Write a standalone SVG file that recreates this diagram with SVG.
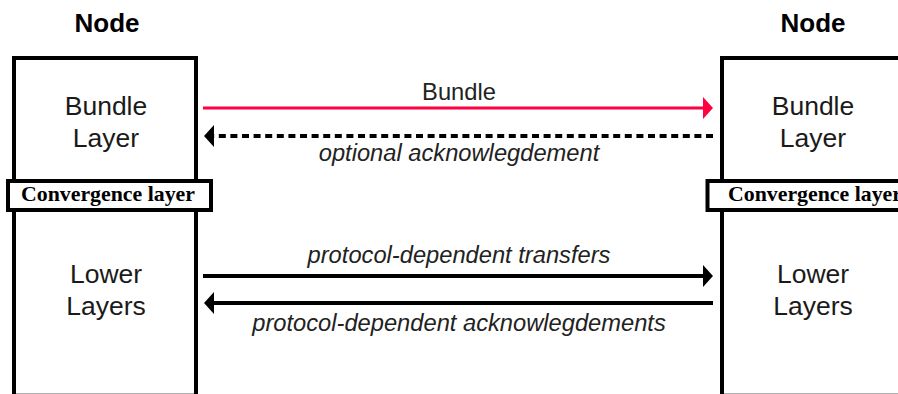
<svg xmlns="http://www.w3.org/2000/svg" width="898" height="394" viewBox="0 0 898 394">
<style>
.title{font-family:"Liberation Sans",Arial,sans-serif;font-weight:bold;font-size:26px;fill:#000;text-anchor:middle}
.lay{font-family:"Liberation Sans",Arial,sans-serif;font-size:26.5px;fill:#1a1a1a;text-anchor:middle}
.lbl{font-family:"Liberation Sans",Arial,sans-serif;font-size:23.7px;fill:#222;text-anchor:middle}
.it{font-style:italic}
.conv{font-family:"Liberation Serif","Times New Roman",serif;font-weight:bold;font-size:21px;fill:#000}
.box{fill:#fff;stroke:#000;stroke-width:4}
.cbox{fill:#fff;stroke:#000;stroke-width:4}
.red{stroke:#FF0040;stroke-width:3;fill:none}
.blk{stroke:#000;stroke-width:4;fill:none}
.dash{stroke:#000;stroke-width:4;fill:none;stroke-dasharray:7 4.6}
</style>
<defs>
<marker id="ahR" markerUnits="userSpaceOnUse" viewBox="0 0 10 22" refX="2" refY="11" markerWidth="10" markerHeight="22" orient="auto"><path d="M0,0 L10,11 L0,22 z" fill="#FF0040"/></marker>
<marker id="ahK" markerUnits="userSpaceOnUse" viewBox="0 0 10 22" refX="2" refY="11" markerWidth="10" markerHeight="22" orient="auto"><path d="M0,0 L10,11 L0,22 z" fill="#000"/></marker>
</defs>
<rect width="898" height="394" fill="#fff"/>
<g id="node-left">
<text class="title" x="107" y="32">Node</text>
<path class="box" d="M14,398 L14,58 L196,58 L196,398"/>
<line x1="16" y1="393.5" x2="194" y2="393.5" stroke="#b0b0b0" stroke-width="1"/>
<text class="lay" x="106" y="115">Bundle</text>
<text class="lay" x="106" y="147">Layer</text>
<text class="lay" x="106" y="283">Lower</text>
<text class="lay" x="106" y="315">Layers</text>
</g>
<g id="conv-left">
<rect class="cbox" x="8" y="181" width="203" height="29"/>
<text class="conv" x="21" y="201" textLength="174" lengthAdjust="spacingAndGlyphs">Convergence layer</text>
</g>
<g id="node-right">
<text class="title" x="813" y="32">Node</text>
<path class="box" d="M722,398 L722,58 L904,58 L904,398"/>
<line x1="724" y1="393.5" x2="898" y2="393.5" stroke="#b0b0b0" stroke-width="1"/>
<text class="lay" x="813" y="115">Bundle</text>
<text class="lay" x="813" y="147">Layer</text>
<text class="lay" x="813" y="283">Lower</text>
<text class="lay" x="813" y="315">Layers</text>
</g>
<g id="conv-right">
<rect class="cbox" x="707.5" y="181" width="203" height="29"/>
<text class="conv" x="728" y="201" textLength="174" lengthAdjust="spacingAndGlyphs">Convergence layer</text>
</g>
<g id="connectors">
<line class="red" x1="203" y1="108" x2="705" y2="108" marker-end="url(#ahR)"/>
<text class="lbl" x="459" y="100">Bundle</text>
<line class="dash" x1="713" y1="136" x2="212" y2="136" marker-end="url(#ahK)"/>
<text class="lbl it" x="459" y="161">optional acknowlegdement</text>
<line class="blk" x1="203" y1="276" x2="705" y2="276" marker-end="url(#ahK)"/>
<text class="lbl it" x="459" y="263">protocol-dependent transfers</text>
<line class="blk" x1="713" y1="303" x2="212" y2="303" marker-end="url(#ahK)"/>
<text class="lbl it" x="459" y="331">protocol-dependent acknowlegdements</text>
</g>
</svg>
